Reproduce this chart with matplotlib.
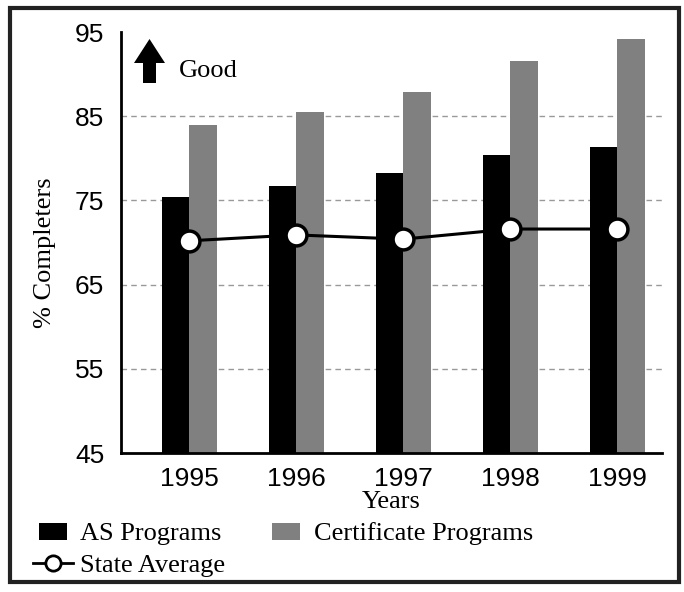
import matplotlib
matplotlib.use("Agg")
import matplotlib.pyplot as plt
import numpy as np
from matplotlib.patches import Rectangle, Polygon
from matplotlib.lines import Line2D
from matplotlib.legend_handler import HandlerPatch

years = ["1995", "1996", "1997", "1998", "1999"]
as_programs = [75.4, 76.7, 78.3, 80.4, 81.3]
certificate_programs = [83.9, 85.5, 87.9, 91.5, 94.2]
state_average = [70.2, 70.9, 70.4, 71.6, 71.6]
y_ticks = [45, 55, 65, 75, 85, 95]

W, H = 684, 592
fig = plt.figure(figsize=(W / 100, H / 100), dpi=100)

def fx(px):
    return px / W

def fy(py):
    return 1 - py / H

SERIF = "Liberation Serif"
SANS = "Liberation Sans"

ax_left, ax_right, ax_top, ax_bottom = 121, 662, 32, 453
ax = fig.add_axes([fx(ax_left), fy(ax_bottom), fx(ax_right - ax_left), (ax_bottom - ax_top) / H])

x = np.arange(len(years))
bw = 0.257
ax.bar(x - bw / 2, [v - 45 for v in as_programs], bw, bottom=45, color="black", zorder=2)
ax.bar(x + bw / 2, [v - 45 for v in certificate_programs], bw, bottom=45, color="#808080", zorder=2)
ax.plot(x, state_average, color="black", lw=2.2, marker="o", markersize=15,
        markerfacecolor="white", markeredgecolor="black", markeredgewidth=2.5, zorder=3)

ax.set_ylim(45, 95)
ax.set_xlim(-0.636, 4.42)
ax.set_yticks(y_ticks)
ax.set_yticklabels([str(t) for t in y_ticks], fontfamily=SANS, fontsize=19)
ax.set_xticks(x)
ax.set_xticklabels(years, fontfamily=SANS, fontsize=19)
ax.tick_params(axis="x", length=0, pad=10)
ax.tick_params(axis="y", length=0, pad=12)
for t in [55, 65, 75, 85]:
    ax.axhline(t, color="#999999", lw=1, ls=(0, (4, 3)), zorder=1)
for s in ["top", "right"]:
    ax.spines[s].set_visible(False)
for s in ["left", "bottom"]:
    ax.spines[s].set_linewidth(2)
    ax.spines[s].set_color("black")

fig.text(fx(391), fy(502), "Years", ha="center", va="center", fontfamily=SERIF, fontsize=19)
fig.text(fx(45), fy(253), "% Completers", rotation=90, ha="center", va="center",
         fontfamily=SERIF, fontsize=19)

# Up arrow "Good"
arrow_px = [(149.5, 39), (165, 63), (156, 63), (156, 83), (143, 83), (143, 63), (134, 63)]
fig.patches.append(Polygon([(fx(a), fy(b)) for a, b in arrow_px], closed=True,
                           transform=fig.transFigure, facecolor="black", edgecolor="none"))
fig.text(fx(179), fy(71), "Good", ha="left", va="center", fontfamily=SERIF, fontsize=19)

# Legend
def square_patch(legend, orig_handle, xdescent, ydescent, width, height, fontsize):
    w = width * 0.7
    h = 12.5
    return Rectangle((-xdescent + (width - w) / 2, -ydescent + (height - h) / 2), w, h)

handles = [
    Rectangle((0, 0), 1, 1, facecolor="black"),
    Line2D([], [], color="black", lw=2, marker="o", markersize=11,
           markerfacecolor="white", markeredgecolor="black", markeredgewidth=2),
    Rectangle((0, 0), 1, 1, facecolor="#808080"),
]
labels = ["AS Programs", "State Average", "Certificate Programs"]
fig.legend(handles, labels, loc="upper left", bbox_to_anchor=(fx(33), fy(522)), ncol=2,
           frameon=False, prop={"family": SERIF, "size": 19}, handlelength=1.52,
           handleheight=0.7, handletextpad=0.27, columnspacing=1.55, labelspacing=0.3,
           borderaxespad=0, borderpad=0,
           handler_map={Rectangle: HandlerPatch(patch_func=square_patch)})

# Figure border
fig.patches.append(Rectangle((fx(10), fy(582)), fx(669), (582 - 8) / H, transform=fig.transFigure,
                             fill=False, edgecolor="#222222", lw=3))

fig.savefig("out.png", dpi=100)
